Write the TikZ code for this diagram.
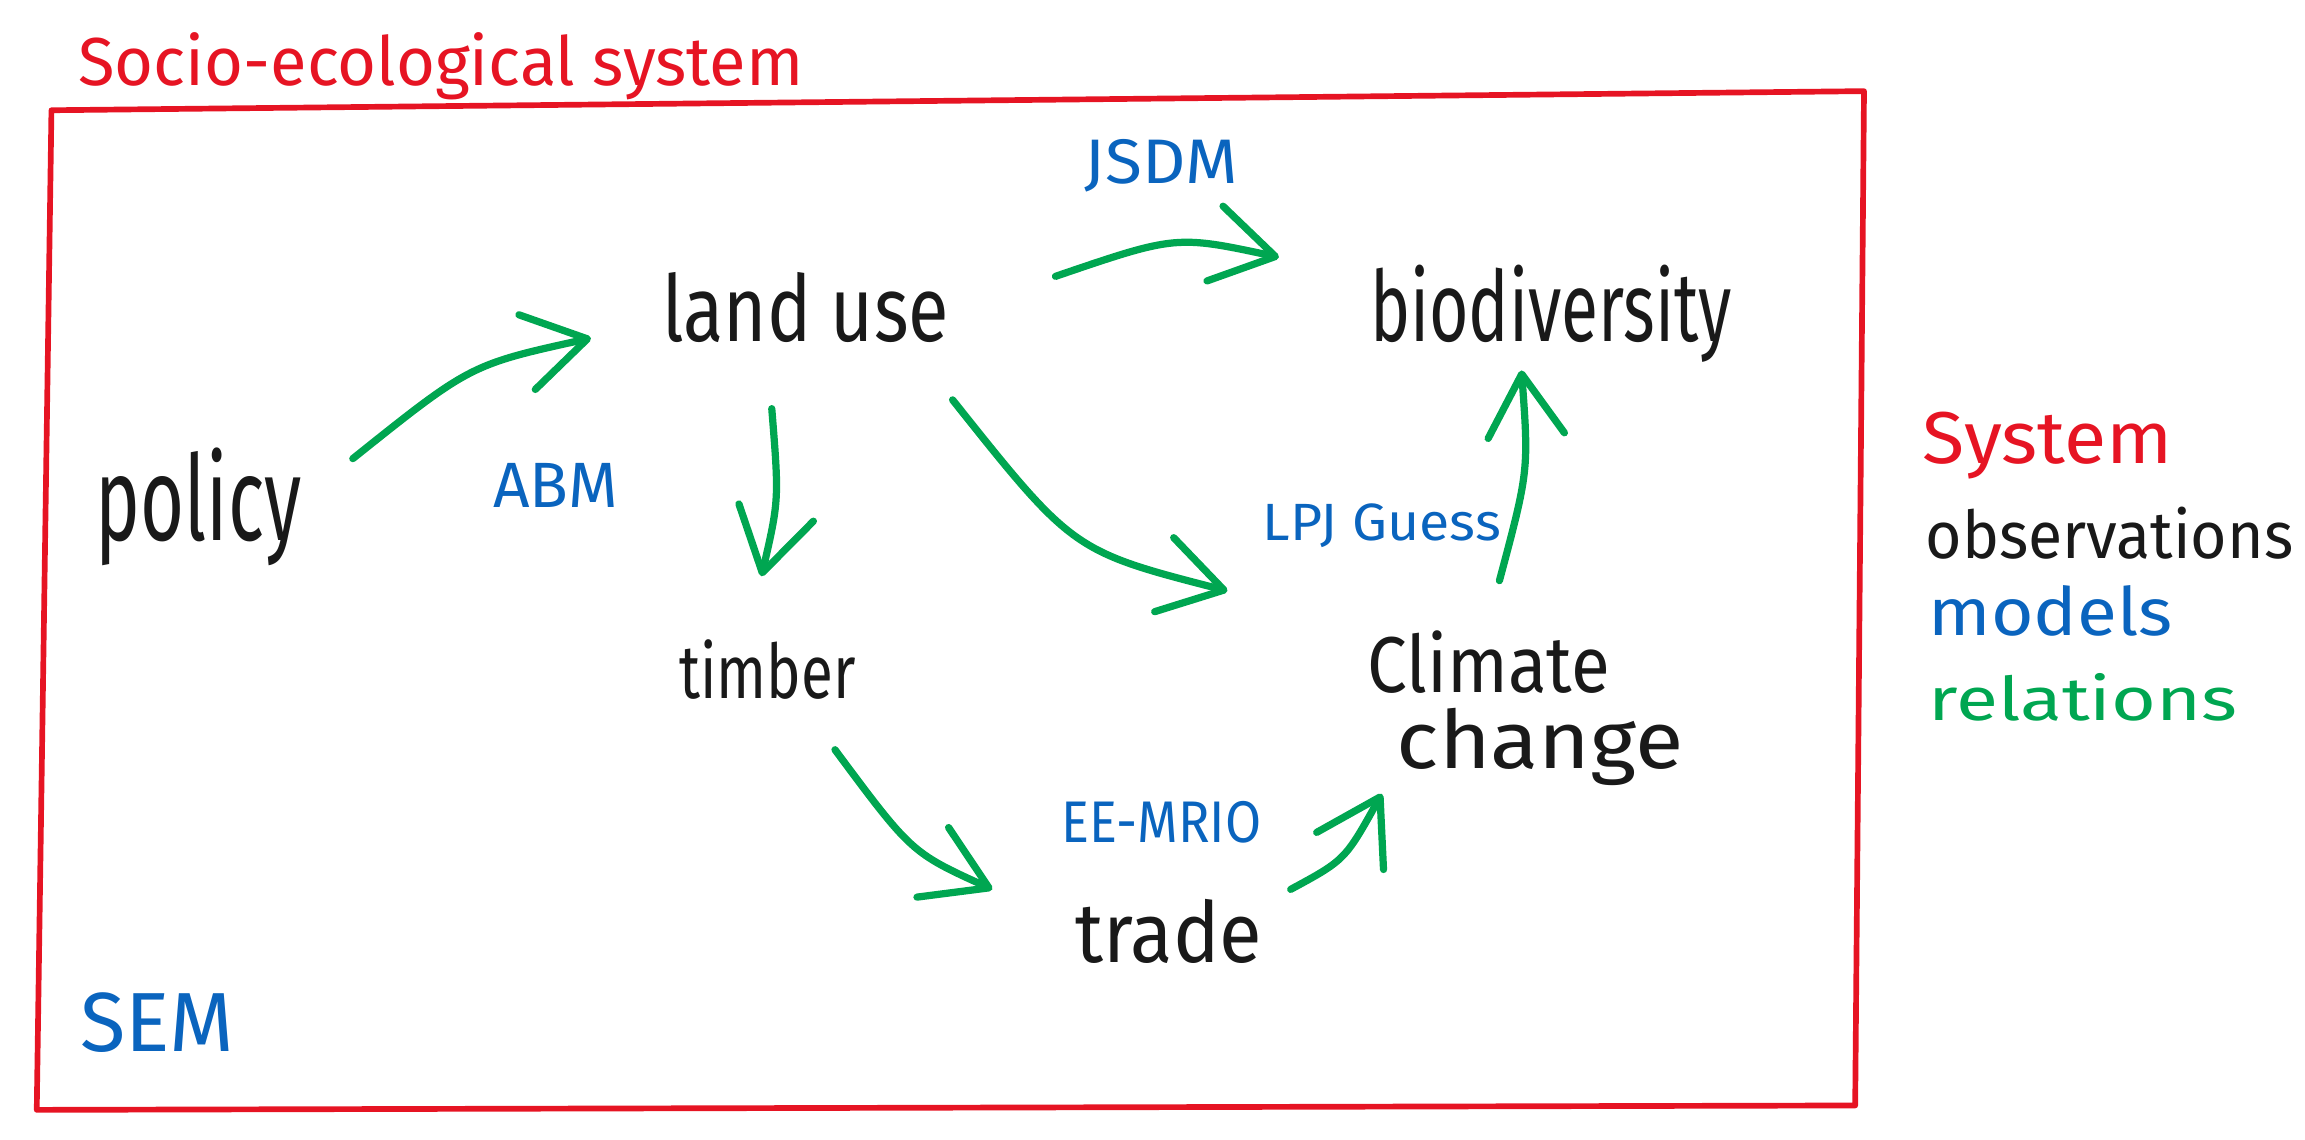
\documentclass[tikz,border=0pt]{standalone}
\usepackage{fontspec}
\setmainfont{Fira Sans}
\usepackage{graphicx}
\usetikzlibrary{arrows.meta,calc}
\definecolor{skred}{RGB}{230,20,35}
\definecolor{skblue}{RGB}{10,100,190}
\definecolor{skgreen}{RGB}{0,166,81}
\definecolor{skblack}{RGB}{25,25,25}
% width, height (in px of the 1568-wide view, 1px = 0.05cm), text
\newcommand{\fitwh}[3]{\resizebox{#1\dimexpr 0.05cm\relax}{#2\dimexpr 0.05cm\relax}{#3}}
\tikzset{
  obs/.style={text=skblack, inner sep=0pt, anchor=base},
  mdl/.style={text=skblue, inner sep=0pt, anchor=base},
  sysl/.style={text=skred, inner sep=0pt, anchor=base},
  rel/.style={text=skgreen, inner sep=0pt, anchor=base},
  relarrow/.style={draw=skgreen, line width=7pt, line cap=round,
    -{Straight Barb[length=2.1cm, width=2.6cm, round, line width=7pt]}},
  frame/.style={draw=skred, line width=5.5pt, line join=round}
}
\begin{document}
\begin{tikzpicture}[x=0.05cm, y=-0.05cm]
\useasboundingbox (0,0) rectangle (1568,775);
% frame
\draw[frame] (35,75) -- (1268,62) -- (1262,752) -- (25,755) -- cycle;
\node[sysl] (title) at (300,58) {\fitwh{493}{36}{Socio-ecological system}};
% observations
\node[obs] (landuse) at (548,232) {\fitwh{195}{47}{land use}};
\node[obs] (biodiv) at (1055,232) {\fitwh{246}{52}{biodiversity}};
\node[obs] (policy) at (135,368) {\fitwh{140}{63}{policy}};
\node[obs] (timber) at (522,475) {\fitwh{120}{40}{timber}};
\node[obs, anchor=north west, align=left] (climate) at (930,429)
  {\fitwh{165}{42}{Climate}\\[13pt]\hspace*{1cm}\fitwh{195}{41}{change}};
\node[obs] (trade) at (795,655) {\fitwh{127}{43}{trade}};
% models
\node[mdl] (jsdm) at (790,125) {\fitwh{104}{30}{JSDM}};
\node[mdl] (abm) at (378,345) {\fitwh{85}{30}{ABM}};
\node[mdl] (lpj) at (940,368) {\fitwh{162}{25}{LPJ Guess}};
\node[mdl] (eemrio) at (790,573) {\fitwh{136}{28}{EE-MRIO}};
\node[mdl] (sem) at (107,715) {\fitwh{105}{40}{SEM}};
% legend
\node[sysl] (lgsys) at (1393,315) {\fitwh{170}{35}{System}};
\node[obs] (lgobs) at (1435,380) {\fitwh{250}{35}{observations}};
\node[mdl] (lgmod) at (1395,432) {\fitwh{166}{34}{models}};
\node[rel] (lgrel) at (1417,490) {\fitwh{210}{32}{relations}};
% relations
\draw[relarrow] ($(policy.base)+(105,-56)$) .. controls (320,248) .. ($(landuse.base)+(-146,-2)$);
\draw[relarrow] ($(landuse.base)+(170,-44)$) .. controls (800,160) .. ($(biodiv.base)+(-185,-57)$);
\draw[relarrow] ($(landuse.base)+(-23,46)$) .. controls (530,340) .. ($(timber.base)+(-4,-83)$);
\draw[relarrow] ($(landuse.base)+(100,40)$) .. controls (730,375) .. ($(climate.north west)+(-95,-27)$);
\draw[relarrow] ($(climate.north west)+(90,-34)$) .. controls (1040,320) .. ($(biodiv.base)+(-20,20)$);
\draw[relarrow] ($(timber.base)+(46,35)$) .. controls (620,580) .. ($(trade.base)+(-120,-50)$);
\draw[relarrow] ($(trade.base)+(83,-50)$) .. controls (915,585) .. ($(climate.north west)+(10,111)$);
\end{tikzpicture}
\end{document}
